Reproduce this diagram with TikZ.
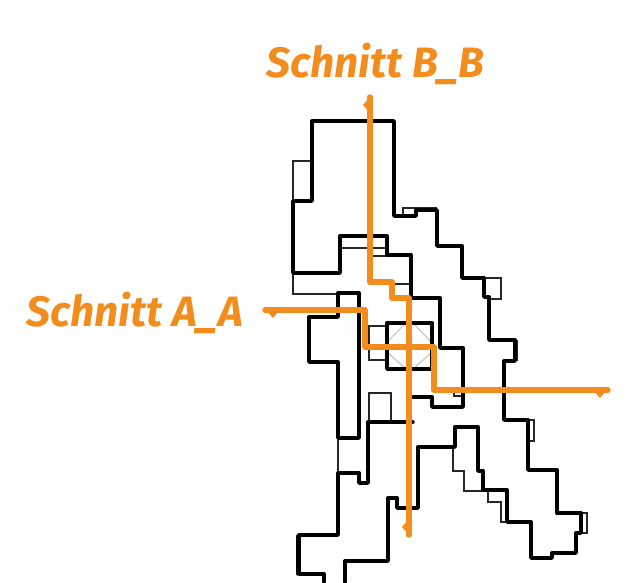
\documentclass[tikz,border=0pt]{standalone}
\usepackage{fontspec}
\setmainfont{Fira Sans}
\definecolor{cutorange}{HTML}{F28C1C}
\tikzset{
  x=1pt,y=-1pt,
  thickwall/.style={draw=black,line width=3.4pt,line join=round,line cap=round},
  thinwall/.style={draw=black!85,line width=1.2pt,line join=miter},
  helper/.style={draw=black!25,line width=1pt},
  cutline/.style={draw=cutorange,line width=5.4pt,line join=round,line cap=round},
  cutmark/.style={fill=cutorange,draw=none},
  cutlabel/.style={text=cutorange,font=\fontsize{42.5}{44}\selectfont\bfseries\itshape,inner sep=0pt,anchor=center}
}
\begin{document}
\begin{tikzpicture}
\useasboundingbox (0,0) rectangle (637,582);
% thin lines
\draw[thinwall] (312,161) -- (293,161) -- (293,201);
\draw[thinwall] (293,273) -- (293,294) -- (338,294);
\draw[thinwall] (403,216) -- (403,208) -- (437,208);
\draw[thinwall] (342,248) -- (387,248);
\draw[thinwall] (372,256) -- (387,256);
\draw[thinwall] (395,284) -- (410,284);
\draw[thinwall] (486,278) -- (501,278) -- (501,299) -- (488,299);
\draw[thinwall] (387,326) -- (369,326) -- (369,360) -- (387,360);
\draw[thinwall] (369,422) -- (369,393) -- (391,393) -- (391,422);
\draw[thinwall] (454,390) -- (454,396) -- (463,396);
\draw[thinwall] (517,340) -- (517,361);
\draw[thinwall] (528,420) -- (534,420) -- (534,441) -- (528,441);
\draw[thinwall] (338,438) -- (338,473);
\draw[thinwall] (454,447) -- (453,447) -- (453,471) -- (464,471) -- (464,491) -- (483,491);
\draw[thinwall] (488,491) -- (488,502) -- (501,502) -- (501,522) -- (507,522);
\draw[thinwall] (581,513) -- (587,513) -- (587,533) -- (581,533);
% grey diagonals
\draw[helper] (406,323) -- (387,342);
\draw[helper] (413,323) -- (432,343);
\draw[helper] (387,352) -- (406,369);
\draw[helper] (432,352) -- (413,369);
% thick outlines
\draw[thickwall] (312,121) -- (394,121) -- (394,216) -- (416,216) -- (416,210) -- (437,210) -- (437,246) -- (462,246) -- (462,278) -- (484,278) -- (484,297) -- (489,297) -- (489,340) -- (515,340) -- (515,361) -- (504,361) -- (504,420) -- (528,420) -- (528,470) -- (557,470) -- (557,513) -- (581,513) -- (581,533) -- (576,533) -- (576,553) -- (552,553) -- (552,558) -- (531,558) -- (531,522) -- (507,522) -- (507,490) -- (483,490) -- (483,471) -- (478,471) -- (478,427) -- (455,427) -- (455,447) -- (418,447) -- (418,508) -- (397,508) -- (397,498) -- (388,498) -- (388,561) -- (345,561) -- (345,582);
\draw[thickwall] (312,121) -- (312,201) -- (293,201) -- (293,273) -- (340,273) -- (340,236) -- (387,236) -- (387,255) -- (411,255) -- (411,298) -- (440,298) -- (440,348) -- (463,348) -- (463,407) -- (432,407) -- (432,397) -- (413,397);
\draw[thickwall] (338,317) -- (338,293) -- (359,293) -- (359,438) -- (338,438) -- (338,362) -- (309,362) -- (309,317) -- cycle;
\draw[thickwall] (387,323) rectangle (432,369);
\draw[thickwall] (413,422) -- (368,422) -- (368,483) -- (359,483) -- (359,473) -- (338,473) -- (338,535) -- (299,535) -- (299,574) -- (324,574) -- (324,582);
\draw[thickwall] (298,536) -- (298,574);
% section lines
\draw[cutline] (370,97) -- (370,282) -- (392,282) -- (392,298) -- (409,298) -- (409,535);
\draw[cutline] (265,310) -- (365,310) -- (365,347) -- (434,347) -- (434,390) -- (608,390);
\fill[cutmark] (369,98) -- (363,105) -- (369,112) -- cycle;
\fill[cutmark] (408,520) -- (402,527) -- (408,534) -- cycle;
\fill[cutmark] (267,311) -- (273,318) -- (279,311) -- cycle;
\fill[cutmark] (594,391) -- (600,398) -- (606,391) -- cycle;
% labels
\node[cutlabel] (labelB) at (375.5,64) {Schnitt B\_B};
\node[cutlabel] (labelA) at (135,313) {Schnitt A\_A};
\end{tikzpicture}
\end{document}
